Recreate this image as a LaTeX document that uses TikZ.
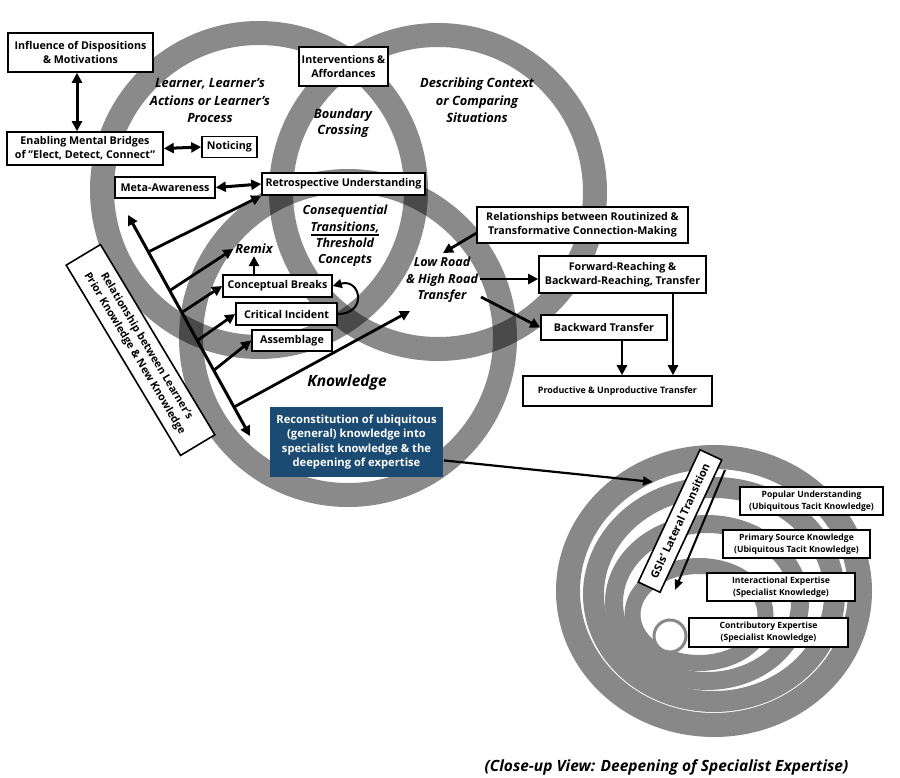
\documentclass[tikz,border=0pt]{standalone}
\usepackage{fontspec}
\setmainfont{Open Sans}
\usetikzlibrary{arrows.meta,calc}
\definecolor{ringgray}{RGB}{136,136,136}
\definecolor{bluebox}{RGB}{27,74,114}
\newcommand\thul[1]{\setbox0=\hbox{#1}\rlap{\raisebox{-4.5pt}{\rule{\wd0}{1.9pt}}}\box0}
\begin{document}
\begin{tikzpicture}[x=1pt,y=-1pt,
  bx/.style={draw=black, fill=white, line width=1.6pt, align=center, inner sep=1pt, text=black, font=\bfseries\fontsize{10.7}{14}\selectfont},
  sbx/.style={bx, line width=1.2pt, font=\bfseries\fontsize{8.6}{12}\selectfont},
  lab/.style={align=center, inner sep=2pt, font=\bfseries\itshape\fontsize{12.8}{17.5}\selectfont},
  ring/.style={draw=black, draw opacity=0.46, line width=24pt},
  dar/.style={line width=3pt, {Triangle[length=10pt,width=10pt]}-{Triangle[length=10pt,width=10pt]}},
  sar/.style={line width=2.8pt, -{Triangle[length=10pt,width=10pt]}},
]
\useasboundingbox (0,0) rectangle (900,778);
\fill[white] (0,0) rectangle (900,778);

% Venn rings
\draw[ring] (259,190) circle [radius=157];
\draw[ring] (438,192) circle [radius=157];
\draw[ring] (348,338) circle [radius=157];

% close-up rings
\draw[ringgray, line width=24pt] (714,591) ellipse [x radius=146, y radius=134];
\draw[ringgray, line width=21pt] (714,594.5) ellipse [x radius=120.5, y radius=107];
\draw[ringgray, line width=18pt] (707,602.5) ellipse [x radius=93, y radius=78.5];
\draw[ringgray, line width=16pt] (699,614.5) ellipse [x radius=66.5, y radius=48.5];
\draw[ringgray, fill=white, line width=3pt] (670,636) circle [radius=16];

% boxes
\node[bx, minimum width=145, minimum height=39] (infl) at (80.5,52.5) {Influence of Dispositions\\\& Motivations};
\node[bx, minimum width=156, minimum height=33] (enab) at (85,148.5) {Enabling Mental Bridges\\of "Elect, Detect, Connect"};
\node[bx, minimum width=55, minimum height=21] (notic) at (229.5,147) {Noticing};
\node[bx, minimum width=100, minimum height=21] (meta) at (165,187.5) {Meta-Awareness};
\node[bx, minimum width=163, minimum height=22] (retro) at (343.5,184) {Retrospective Understanding};
\node[bx, minimum width=89, minimum height=39] (interv) at (343.5,66.5) {Interventions \&\\Affordances};
\node[bx, minimum width=109, minimum height=22] (concb) at (277.5,286) {Conceptual Breaks};
\node[bx, minimum width=101, minimum height=22] (crit) at (286.5,314) {Critical Incident};
\node[bx, minimum width=80, minimum height=21] (assem) at (292,340.5) {Assemblage};
\node[bx, minimum width=211, minimum height=36] (relat) at (582.5,225) {Relationships between Routinized \&\\Transformative Connection-Making};
\node[bx, minimum width=167, minimum height=37] (forw) at (622.5,274.5) {Forward-Reaching \&\\Backward-Reaching, Transfer};
\node[bx, minimum width=126, minimum height=25] (backw) at (604,327.5) {Backward Transfer};
\node[bx, minimum width=189, minimum height=30, font=\bfseries\fontsize{8.9}{12}\selectfont] (produ) at (617.5,391) {Productive \& Unproductive Transfer};
\node[bx, draw=none, fill=bluebox, text=white, minimum width=173, minimum height=70, font=\bfseries\fontsize{11.2}{14.5}\selectfont] (blue) at (356.5,442) {Reconstitution of ubiquitous\\(general) knowledge into\\specialist knowledge \& the\\deepening of expertise};
\node[bx, rotate=-59, minimum width=222, minimum height=40] (relk) at (140.5,350) {Relationship between Learner's\\Prior Knowledge \& New Knowledge};

% italic labels
\node[lab] (lrn) at (210,100.5) {Learner, Learner's\\Actions or Learner's\\Process};
\node[lab, font=\bfseries\itshape\fontsize{12.8}{16}\selectfont] (bnd) at (343,123) {Boundary\\Crossing};
\node[lab] (dsc) at (477,100.5) {Describing Context\\or Comparing\\Situations};
\node[lab, font=\bfseries\itshape\fontsize{12.5}{16.3}\selectfont] (cons) at (345,236) {Consequential\\\thul{Transitions,}\\Threshold\\Concepts};
\node[lab] (remix) at (254,249) {Remix};
\node[lab, font=\bfseries\itshape\fontsize{12.5}{16.5}\selectfont] (lowr) at (442,280) {Low Road\\\& High Road\\Transfer};
\node[lab, font=\bfseries\itshape\fontsize{15.5}{18}\selectfont] (know) at (347,382) {Knowledge};

% close-up boxes
\node[sbx, minimum width=143, minimum height=28] (pop) at (811.5,501) {Popular Understanding\\(Ubiquitous Tacit Knowledge)};
\node[sbx, minimum width=147, minimum height=28] (prim) at (796.5,544) {Primary Source Knowledge\\(Ubiquitous Tacit Knowledge)};
\node[sbx, minimum width=148, minimum height=28] (inter) at (781,587) {Interactional Expertise\\(Specialist Knowledge)};
\node[sbx, minimum width=159, minimum height=29] (contr) at (768.5,632.5) {Contributory Expertise\\(Specialist Knowledge)};
\node[bx, rotate=65, minimum width=146, minimum height=24, font=\bfseries\fontsize{11}{12}\selectfont] (gsis) at (680,521) {GSIs' Lateral Transition};

\node[lab, font=\bfseries\itshape\fontsize{15.5}{18}\selectfont] (capt) at (666.5,767) {(Close-up View: Deepening of Specialist Expertise)};

% coordinates
\coordinate (v) at (77,0);
\coordinate (lt) at (128,215);
\coordinate (lb) at (250,436);
\coordinate (lrt) at (410,311);
\coordinate (rl) at ($(relat.south west)!0.28!(relat.north west)$);
\coordinate (lrtop) at (443,253);
\coordinate (fw) at ($(forw.west)+(0,4.5)$);
\coordinate (tr) at (481,297);
\coordinate (bw) at ($(backw.west)+(0,0)$);
\coordinate (b1) at ($(backw.south)+(18,0)$);
\coordinate (f1) at ($(forw.south)+(50.5,0)$);
\coordinate (bs) at ($(blue.south east)!0.243!(blue.north east)$);
\coordinate (cv) at (653,482);
\coordinate (gs1) at (725,470);
\coordinate (gs2) at (675,590);

% arrows
\draw[dar] (infl.south -| v) -- (enab.north -| v);
\draw[dar] (enab.east) -- (notic.west);
\draw[dar] (meta.east) -- (retro.west);
\draw[dar] (lt) -- (lb);
\draw[sar] ($(lt)!0.167!(lb)$) -- (retro.south west);
\draw[sar] ($(lt)!0.342!(lb)$) -- (remix.west);
\draw[sar] ($(lt)!0.441!(lb)$) -- (concb.west);
\draw[sar] ($(lt)!0.568!(lb)$) -- (crit.west);
\draw[sar] ($(lt)!0.703!(lb)$) -- (assem.west);
\draw[sar] ($(lt)!0.869!(lb)$) -- (lrt);
\draw[sar] (concb.north -| remix) -- (remix.south);
\draw[line width=2pt, -{Triangle[length=9pt,width=9pt]}] (crit.east) .. controls +(30,0) and +(28,-8) .. (concb.east);
\draw[sar] (rl) -- (lrtop);
\draw[sar] (lowr.east |- fw) -- (fw);
\draw[sar] (tr) -- (bw);
\draw[sar] (b1) -- (b1 |- produ.north);
\draw[sar] (f1) -- (f1 |- produ.north);
\draw[line width=2.2pt, -{Triangle[length=10pt,width=9pt]}] (bs) -- (cv);
\draw[line width=2pt, -{Triangle[length=10pt,width=8pt]}] (gs1) -- (gs2);
\end{tikzpicture}
\end{document}
